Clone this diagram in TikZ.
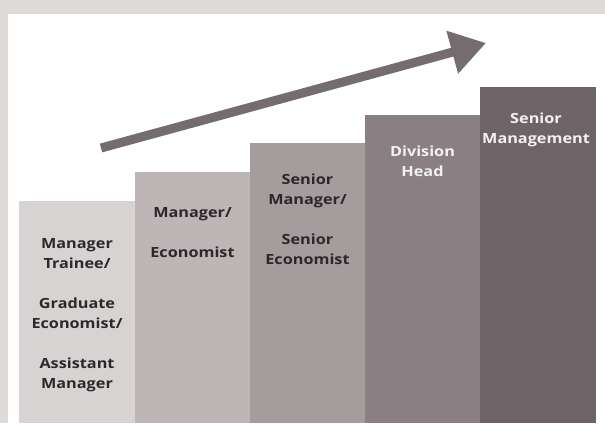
\documentclass[tikz,border=0pt]{standalone}
\usepackage{fontspec}
\usetikzlibrary{arrows.meta}
\newfontfamily\steplabelfont{Open Sans}[FakeStretch=1.16]
\definecolor{frameGray}{HTML}{DEDAD7}
\definecolor{barA}{HTML}{D8D3D3}
\definecolor{barB}{HTML}{BEB5B6}
\definecolor{barC}{HTML}{A59C9E}
\definecolor{barD}{HTML}{8A7F82}
\definecolor{barE}{HTML}{6E6367}
\definecolor{arrowGray}{HTML}{756C70}
\definecolor{darkText}{HTML}{2E2729}
\definecolor{lightText}{HTML}{F4F1F1}
\tikzset{
  % anchor "base" sits on the baseline of the last line
  steplabel/.style={align=center, inner sep=0pt, anchor=base,
    font=\steplabelfont\bfseries\fontsize{14}{20}\selectfont},
  darklabel/.style={steplabel, text=darkText},
  lightlabel/.style={steplabel, text=lightText},
}
\begin{document}
\begin{tikzpicture}[x=1pt, y=-1pt]
  \useasboundingbox (0,0) rectangle (605,423);
  % outer frame
  \fill[frameGray] (0,0) rectangle (605,423);
  \fill[white] (8,14) rectangle (605,423);
  % career steps
  \fill[barA] (19,201) rectangle (135,423);
  \fill[barB] (135,172) rectangle (250,423);
  \fill[barC] (250,143) rectangle (365,423);
  \fill[barD] (365,115) rectangle (480,423);
  \fill[barE] (480,87) rectangle (596,423);
  % labels
  \node[darklabel] (trainee) at (77,388)
    {Manager\\Trainee/\\[20pt]Graduate\\Economist/\\[20pt]Assistant\\Manager};
  \node[darklabel] (manager) at (192.5,257) {Manager/\\[20pt]Economist};
  \node[darklabel] (senior) at (307.5,264.5)
    {Senior\\Manager/\\[20pt]Senior\\Economist};
  \node[lightlabel] (division) at (422.5,176.5) {Division\\Head};
  \node[lightlabel] (management) at (536,143.5) {Senior\\Management};
  % rising arrow
  \coordinate (rise start) at (101,148);
  \coordinate (rise end) at (486,43);
  \draw[arrowGray, line width=9pt, -{Triangle[length=35pt, width=42pt]}]
    (rise start) -- (rise end);
\end{tikzpicture}
\end{document}
